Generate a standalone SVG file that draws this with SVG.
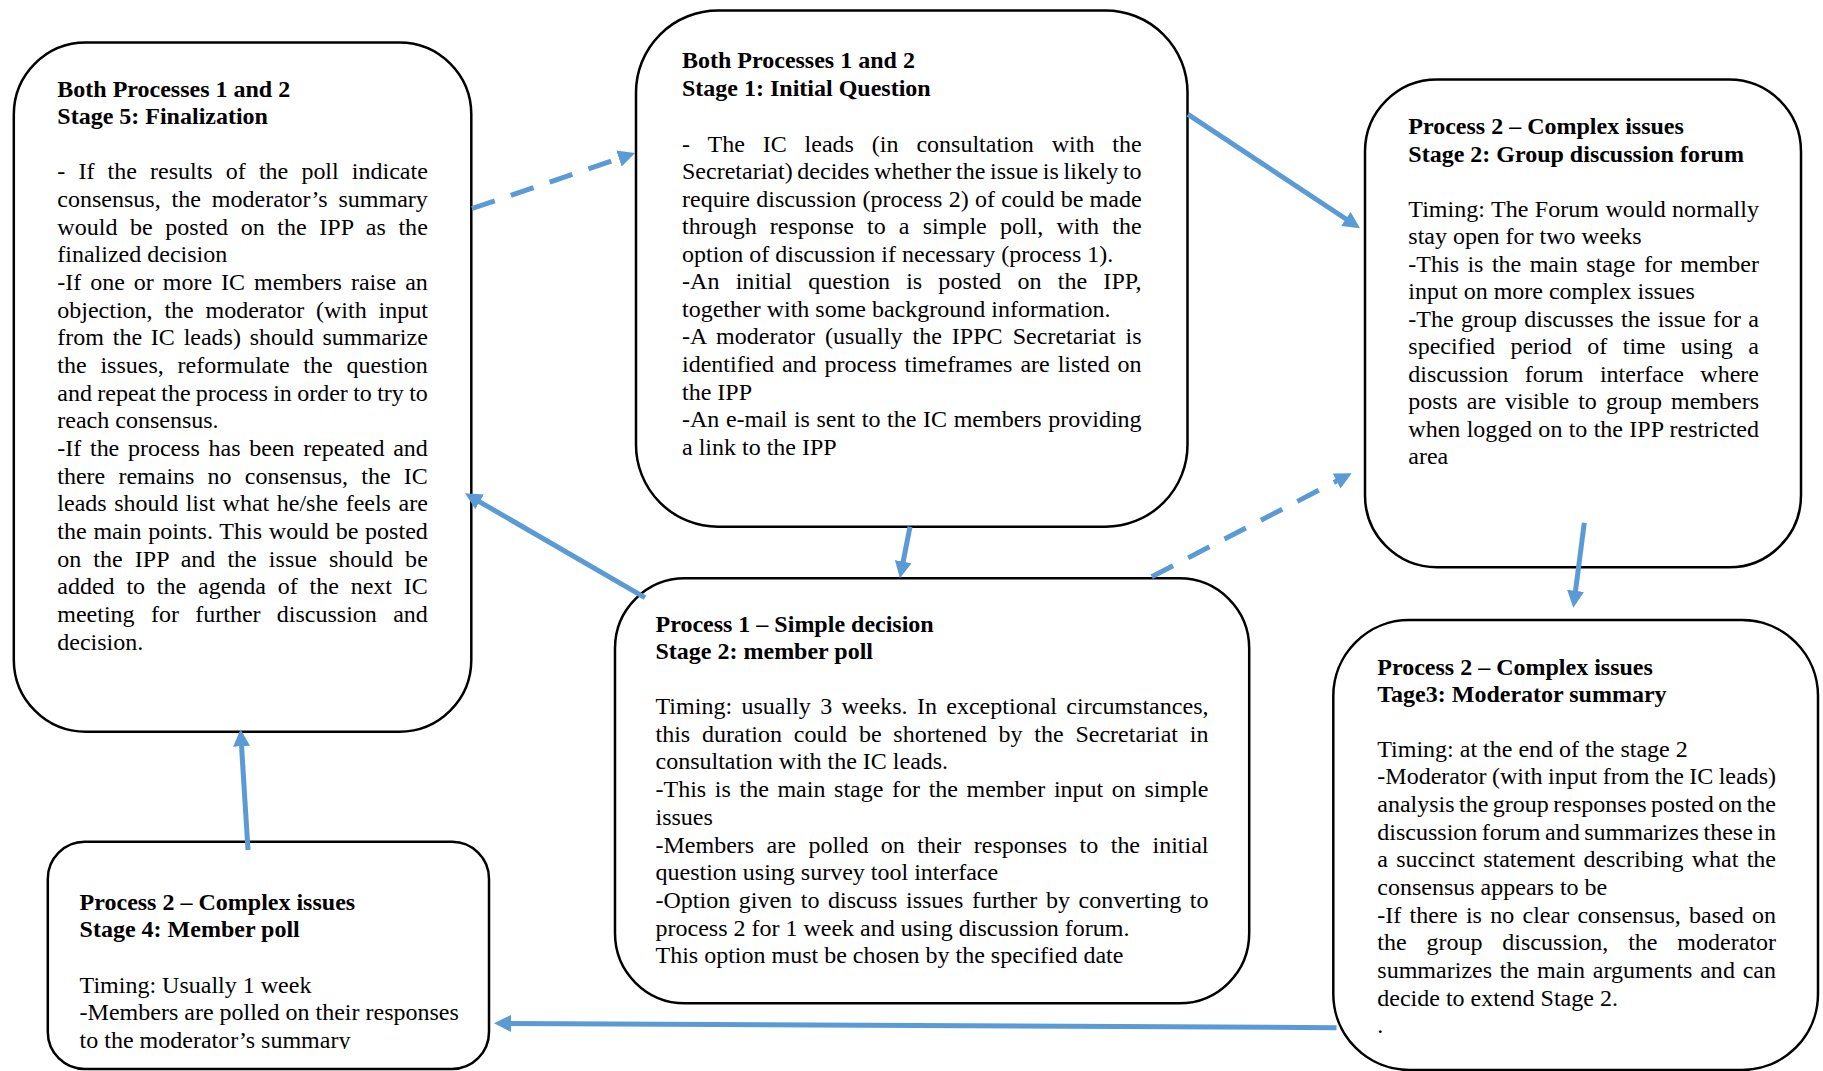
<svg xmlns="http://www.w3.org/2000/svg" width="1823" height="1071" viewBox="0 0 1823 1071">
<style>
.box{fill:#fff;stroke:#000;stroke-width:2.5}
text{font-family:"Liberation Serif","Times New Roman",serif;font-size:24px;fill:#000}
.h{font-weight:bold}
.c{fill:none;stroke:#5B9BD5;stroke-width:5}
.d{stroke-dasharray:24 17}
</style>
<defs>
<marker id="ah" viewBox="0 0 17 17" refX="1" refY="8.5" markerWidth="17" markerHeight="17" markerUnits="userSpaceOnUse" orient="auto">
<path d="M0,0 L17,8.5 L0,17 z" fill="#5B9BD5"/>
</marker>
<clipPath id="clipE"><rect x="40" y="835" width="460" height="214"/></clipPath>
</defs>
<rect width="1823" height="1071" fill="#fff"/>

<g id="node-stage5">
<rect class="box" x="13.8" y="42.5" width="457.5" height="689.3" rx="72"/>
<text class="h" x="57.3" y="96.7">Both Processes 1 and 2</text>
<text class="h" x="57.3" y="124.3">Stage 5: Finalization</text>
<text x="57.3" y="179.3" word-spacing="7.13" textLength="370.5" lengthAdjust="spacing">- If the results of the poll indicate</text>
<text x="57.3" y="207.0" word-spacing="4.87" textLength="370.5" lengthAdjust="spacing">consensus, the moderator’s summary</text>
<text x="57.3" y="234.6" word-spacing="6.55" textLength="370.5" lengthAdjust="spacing">would be posted on the IPP as the</text>
<text x="57.3" y="262.3">finalized decision</text>
<text x="57.3" y="290.0" word-spacing="2.94" textLength="370.5" lengthAdjust="spacing">-If one or more IC members raise an</text>
<text x="57.3" y="317.7" word-spacing="5.8" textLength="370.5" lengthAdjust="spacing">objection, the moderator (with input</text>
<text x="57.3" y="345.3" word-spacing="2.78" textLength="370.5" lengthAdjust="spacing">from the IC leads) should summarize</text>
<text x="57.3" y="373.0" word-spacing="7.8" textLength="370.5" lengthAdjust="spacing">the issues, reformulate the question</text>
<text x="57.3" y="400.7" word-spacing="-0.67" textLength="370.5" lengthAdjust="spacing">and repeat the process in order to try to</text>
<text x="57.3" y="428.3">reach consensus.</text>
<text x="57.3" y="456.0" word-spacing="2.67" textLength="370.5" lengthAdjust="spacing">-If the process has been repeated and</text>
<text x="57.3" y="483.7" word-spacing="7.18" textLength="370.5" lengthAdjust="spacing">there remains no consensus, the IC</text>
<text x="57.3" y="511.3" word-spacing="1.53" textLength="370.5" lengthAdjust="spacing">leads should list what he/she feels are</text>
<text x="57.3" y="539.0" word-spacing="0.75" textLength="370.5" lengthAdjust="spacing">the main points. This would be posted</text>
<text x="57.3" y="566.7" word-spacing="5.98" textLength="370.5" lengthAdjust="spacing">on the IPP and the issue should be</text>
<text x="57.3" y="594.4" word-spacing="5.8" textLength="370.5" lengthAdjust="spacing">added to the agenda of the next IC</text>
<text x="57.3" y="622.0" word-spacing="10.3" textLength="370.5" lengthAdjust="spacing">meeting for further discussion and</text>
<text x="57.3" y="649.7">decision.</text>
</g>

<g id="node-stage1">
<rect class="box" x="636" y="10.5" width="551.5" height="516.2" rx="82"/>
<text class="h" x="682" y="67.9">Both Processes 1 and 2</text>
<text class="h" x="682" y="95.5">Stage 1: Initial Question</text>
<text x="682" y="151.7" word-spacing="11.86" textLength="459.6" lengthAdjust="spacing">- The IC leads (in consultation with the</text>
<text x="682" y="179.2" word-spacing="-1.29" textLength="459.6" lengthAdjust="spacing">Secretariat) decides whether the issue is likely to</text>
<text x="682" y="206.8" word-spacing="0.24" textLength="459.6" lengthAdjust="spacing">require discussion (process 2) of could be made</text>
<text x="682" y="234.3" word-spacing="7.18" textLength="459.6" lengthAdjust="spacing">through response to a simple poll, with the</text>
<text x="682" y="261.8">option of discussion if necessary (process 1).</text>
<text x="682" y="289.4" word-spacing="10.03" textLength="459.6" lengthAdjust="spacing">-An initial question is posted on the IPP,</text>
<text x="682" y="316.9">together with some background information.</text>
<text x="682" y="344.4" word-spacing="3.95" textLength="459.6" lengthAdjust="spacing">-A moderator (usually the IPPC Secretariat is</text>
<text x="682" y="371.9" word-spacing="1.95" textLength="459.6" lengthAdjust="spacing">identified and process timeframes are listed on</text>
<text x="682" y="399.5">the IPP</text>
<text x="682" y="427.0" word-spacing="0.62" textLength="459.6" lengthAdjust="spacing">-An e-mail is sent to the IC members providing</text>
<text x="682" y="454.5">a link to the IPP</text>
</g>

<g id="node-p2-stage2">
<rect class="box" x="1365" y="79.5" width="436" height="487.8" rx="72"/>
<text class="h" x="1408.3" y="134">Process 2 – Complex issues</text>
<text class="h" x="1408.3" y="161.7">Stage 2: Group discussion forum</text>
<text x="1408.3" y="216.7" word-spacing="0.35" textLength="350.7" lengthAdjust="spacing">Timing: The Forum would normally</text>
<text x="1408.3" y="244.2">stay open for two weeks</text>
<text x="1408.3" y="271.7" word-spacing="2.45" textLength="350.7" lengthAdjust="spacing">-This is the main stage for member</text>
<text x="1408.3" y="299.2">input on more complex issues</text>
<text x="1408.3" y="326.7" word-spacing="1.3" textLength="350.7" lengthAdjust="spacing">-The group discusses the issue for a</text>
<text x="1408.3" y="354.3" word-spacing="9.48" textLength="350.7" lengthAdjust="spacing">specified period of time using a</text>
<text x="1408.3" y="381.8" word-spacing="10.5" textLength="350.7" lengthAdjust="spacing">discussion forum interface where</text>
<text x="1408.3" y="409.3" word-spacing="3.08" textLength="350.7" lengthAdjust="spacing">posts are visible to group members</text>
<text x="1408.3" y="436.8" word-spacing="0.23" textLength="350.7" lengthAdjust="spacing">when logged on to the IPP restricted</text>
<text x="1408.3" y="464.3">area</text>
</g>

<g id="node-p1-stage2">
<rect class="box" x="615" y="578.3" width="634.2" height="425" rx="70"/>
<text class="h" x="655.5" y="631.7">Process 1 – Simple decision</text>
<text class="h" x="655.5" y="659">Stage 2: member poll</text>
<text x="655.5" y="714" word-spacing="3.29" textLength="553" lengthAdjust="spacing">Timing: usually 3 weeks. In exceptional circumstances,</text>
<text x="655.5" y="741.7" word-spacing="5.8" textLength="553" lengthAdjust="spacing">this duration could be shortened by the Secretariat in</text>
<text x="655.5" y="769.4">consultation with the IC leads.</text>
<text x="655.5" y="797.1" word-spacing="2.64" textLength="553" lengthAdjust="spacing">-This is the main stage for the member input on simple</text>
<text x="655.5" y="824.8">issues</text>
<text x="655.5" y="852.5" word-spacing="6.46" textLength="553" lengthAdjust="spacing">-Members are polled on their responses to the initial</text>
<text x="655.5" y="880.2">question using survey tool interface</text>
<text x="655.5" y="907.9" word-spacing="2.63" textLength="553" lengthAdjust="spacing">-Option given to discuss issues further by converting to</text>
<text x="655.5" y="935.6">process 2 for 1 week and using discussion forum.</text>
<text x="655.5" y="963.3">This option must be chosen by the specified date</text>
</g>

<g id="node-p2-stage4">
<rect class="box" x="47.8" y="841.7" width="441.2" height="227.3" rx="37"/>
<g clip-path="url(#clipE)">
<text class="h" x="79.6" y="910">Process 2 – Complex issues</text>
<text class="h" x="79.6" y="937.3">Stage 4: Member poll</text>
<text x="79.6" y="992.7">Timing: Usually 1 week</text>
<text x="79.6" y="1020.4">-Members are polled on their responses</text>
<text x="79.6" y="1048.1">to the moderator’s summary</text>
</g>
</g>

<g id="node-p2-stage3">
<rect class="box" x="1333.3" y="620" width="484.7" height="450" rx="76"/>
<text class="h" x="1377.3" y="675">Process 2 – Complex issues</text>
<text class="h" x="1377.3" y="702.3">Tage3: Moderator summary</text>
<text x="1377.3" y="756.7">Timing: at the end of the stage 2</text>
<text x="1377.3" y="784.4" word-spacing="-0.65" textLength="398.7" lengthAdjust="spacing">-Moderator (with input from the IC leads)</text>
<text x="1377.3" y="812.0" word-spacing="-1.55" textLength="398.7" lengthAdjust="spacing">analysis the group responses posted on the</text>
<text x="1377.3" y="839.7" word-spacing="-1.46" textLength="398.7" lengthAdjust="spacing">discussion forum and summarizes these in</text>
<text x="1377.3" y="867.3" word-spacing="2.28" textLength="398.7" lengthAdjust="spacing">a succinct statement describing what the</text>
<text x="1377.3" y="895.0">consensus appears to be</text>
<text x="1377.3" y="922.7" word-spacing="2.3" textLength="398.7" lengthAdjust="spacing">-If there is no clear consensus, based on</text>
<text x="1377.3" y="950.3" word-spacing="13.85" textLength="398.7" lengthAdjust="spacing">the group discussion, the moderator</text>
<text x="1377.3" y="978.0" word-spacing="1.76" textLength="398.7" lengthAdjust="spacing">summarizes the main arguments and can</text>
<text x="1377.3" y="1005.6">decide to extend Stage 2.</text>
<text x="1377.3" y="1033.3">.</text>
</g>

<g id="connectors">
<line class="c d" x1="472" y1="208.5" x2="619.9" y2="158.2" marker-end="url(#ah)"/>
<line class="c" x1="1188" y1="114.3" x2="1346.7" y2="219.5" marker-end="url(#ah)"/>
<line class="c" x1="910" y1="526.7" x2="903" y2="562.6" marker-end="url(#ah)"/>
<line class="c d" x1="1151.7" y1="576.7" x2="1337.5" y2="480.6" marker-end="url(#ah)"/>
<line class="c" x1="1584.3" y1="522.7" x2="1575.4" y2="591.8" marker-end="url(#ah)"/>
<line class="c" x1="1336.5" y1="1027.7" x2="510" y2="1023.4" marker-end="url(#ah)"/>
<line class="c" x1="248" y1="850" x2="241.5" y2="745.3" marker-end="url(#ah)"/>
<line class="c" x1="645" y1="597.7" x2="478.8" y2="501.3" marker-end="url(#ah)"/>
</g>
</svg>
